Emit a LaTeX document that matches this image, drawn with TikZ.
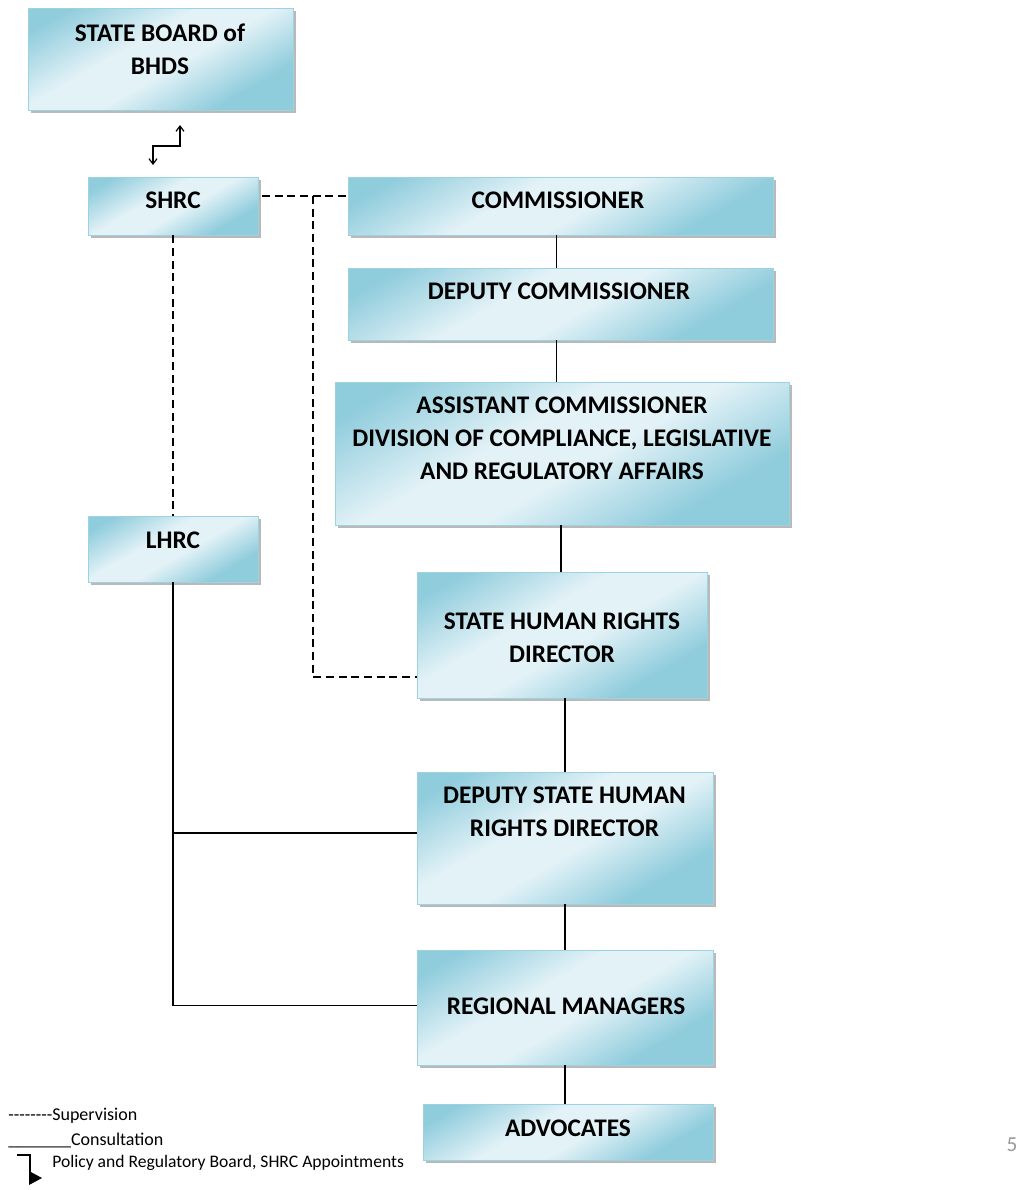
\documentclass[tikz,border=0pt]{standalone}
\usepackage{fontspec}
\setmainfont{Carlito}
\newfontfamily\legfont{Carlito}[Ligatures=TeXOff]
\usetikzlibrary{fit,shadows,arrows.meta,calc}
\definecolor{boxdark}{HTML}{8FCCDC}
\definecolor{boxlight}{HTML}{E3F2F7}
\definecolor{boxline}{HTML}{9DD3E1}
\pgfdeclarehorizontalshading{boxshade}{100bp}{color(0bp)=(boxdark); color(28bp)=(boxdark); color(46bp)=(boxlight); color(58bp)=(boxlight); color(78bp)=(boxdark); color(100bp)=(boxdark)}
\tikzset{
  box/.style={draw=boxline, line width=0.7pt, shading=boxshade, shading angle=120, inner sep=0pt,
    drop shadow={shadow xshift=2pt, shadow yshift=-2pt, fill=black!50, opacity=0.55}},
  lab/.style={font=\bfseries\fontsize{19}{24.75}\selectfont, align=center, inner sep=0pt},
  leg/.style={font=\legfont\fontsize{13.5}{15}\selectfont, inner sep=0pt, anchor=west},
  sup/.style={line width=0.9pt, dash pattern=on 6pt off 3.5pt},
  con/.style={line width=0.9pt},
}
\begin{document}
\begin{tikzpicture}[x=0.75pt,y=-0.75pt]
\useasboundingbox (0,0) rectangle (1030,1190);
% boxes
\node[box, fit={(28,8) (293,110)}] (board) {};
\node[box, fit={(88,177) (258,235)}] (shrc) {};
\node[box, fit={(88,516) (258,582)}] (lhrc) {};
\node[box, fit={(348,177) (773,235)}] (comm) {};
\node[box, fit={(348,268) (773,340)}] (dcomm) {};
\node[box, fit={(335,382) (789,525)}] (acomm) {};
\node[box, fit={(417,572) (707,698)}] (hrd) {};
\node[box, fit={(417,772) (713,904)}] (dhrd) {};
\node[box, fit={(417,950) (713,1065)}] (rm) {};
\node[box, fit={(423,1104) (713,1160)}] (adv) {};
% labels
\node[lab] (tboard) at (160,49.5) {STATE BOARD of\\BHDS};
\node[lab] (tshrc) at (173,200) {SHRC};
\node[lab] (tlhrc) at (173,540) {LHRC};
\node[lab] (tcomm) at (558,200) {COMMISSIONER};
\node[lab] (tdcomm) at (559,291) {DEPUTY COMMISSIONER};
\node[lab] (tacomm) at (562,438) {ASSISTANT COMMISSIONER\\DIVISION OF COMPLIANCE, LEGISLATIVE\\AND REGULATORY AFFAIRS};
\node[lab] (thrd) at (562,637.5) {STATE HUMAN RIGHTS\\DIRECTOR};
\node[lab] (tdhrd) at (564.5,811.5) {DEPUTY STATE HUMAN\\RIGHTS DIRECTOR};
\node[lab] (trm) at (566,1006) {REGIONAL MANAGERS};
\node[lab] (tadv) at (568,1128) {ADVOCATES};
% solid chain
\draw[con] ($(comm.south)+(-4,0)$) -- ($(comm.south |- dcomm.north)+(-4,0)$);
\draw[con] ($(dcomm.south)+(-4,0)$) -- ($(dcomm.south |- acomm.north)+(-4,0)$);
\draw[con] ($(acomm.south)+(-1,0)$) -- ($(acomm.south |- hrd.north)+(-1,0)$);
\draw[con] ($(hrd.south)+(3,0)$) -- ($(hrd.south |- dhrd.north)+(3,0)$);
\draw[con] (dhrd.south) -- (dhrd.south |- rm.north);
\draw[con] (rm.south) -- (rm.south |- adv.north);
% LHRC consultation
\coordinate (b1) at (173,833);
\draw[con] (lhrc.south) |- ($(rm.west)+(0,-2)$);
\draw[con] (b1) -- (b1 -| dhrd.west);
% supervision
\coordinate (j0) at (262,196);
\coordinate (j1) at (313,196);
\draw[sup] (j0) -- (j0 -| comm.west);
\draw[sup] (j1) |- ($(hrd.west)+(0,42)$);
\draw[sup] (shrc.south) -- (lhrc.north);
% board arrows
\coordinate (a1) at (153,165);
\coordinate (a2) at (180,125);
\draw[line width=0.9pt, {Straight Barb[length=4pt,width=6pt]}-{Straight Barb[length=4pt,width=6pt]}] (a1) -- ++(0,-19) -| (a2);
% legend
\node[leg] (l1) at (8,1116) {--------Supervision};
\node[leg] (l2) at (8,1140) {\_\_\_\_\_\_\_Consultation};
\draw[line width=0.9pt] (17,1155) -| (30,1177);
\fill (29,1171) -- (42,1178) -- (29,1185) -- cycle;
\node[leg, font=\legfont\fontsize{13.2}{15}\selectfont] (l3) at (52,1163) {Policy and Regulatory Board, SHRC Appointments};
\node[inner sep=0pt, text=black!40, font=\fontsize{16}{18}\selectfont] (pg) at (1012,1145) {5};
\end{tikzpicture}
\end{document}
